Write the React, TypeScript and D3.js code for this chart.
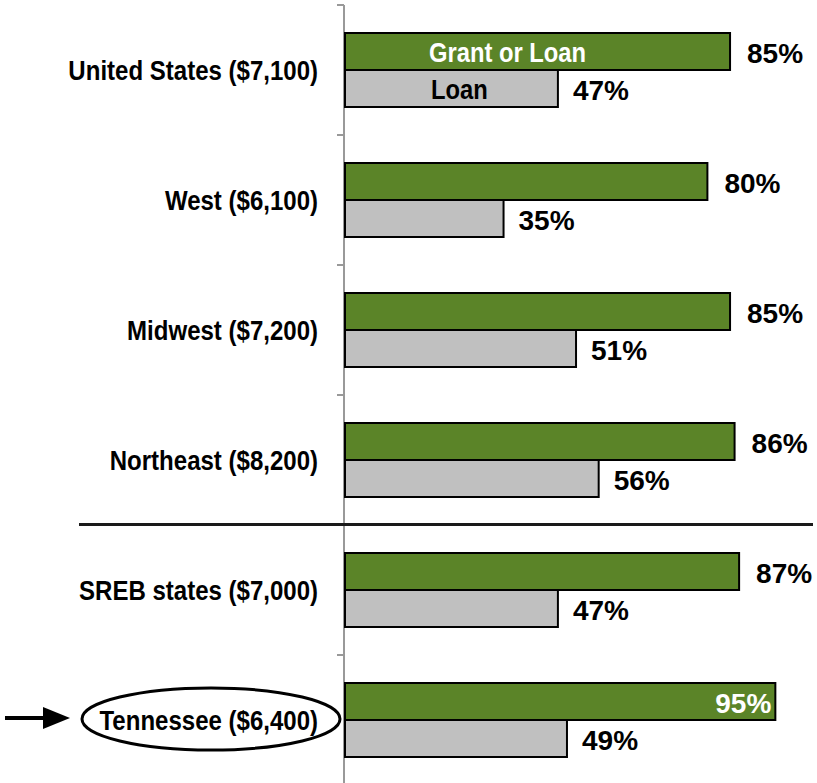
import React from "react";
import * as d3 from "d3";

const categories = [
  "United States ($7,100)",
  "West ($6,100)",
  "Midwest ($7,200)",
  "Northeast ($8,200)",
  "SREB states ($7,000)",
  "Tennessee ($6,400)",
];
const grantOrLoan = [85, 80, 85, 86, 87, 95];
const loanOnly = [47, 35, 51, 56, 47, 49];
const seriesNames = ["Grant or Loan", "Loan"];

const W = 817;
const H = 783;
const FONT = "'Liberation Sans', Arial, sans-serif";
const GREEN = "#5B8428";
const GRAY = "#C0C0C0";

function T(props: { x: number; y: number; anchor: string; fill: string; size: number; sx: number; children: any }) {
  return (
    <text
      transform={`translate(${props.x},${props.y}) scale(${props.sx},1)`}
      textAnchor={props.anchor as any}
      fill={props.fill}
      fontWeight="bold"
      fontSize={props.size}
    >
      {props.children}
    </text>
  );
}

export default function App() {
  const x = d3.scaleLinear().domain([0, 100]).range([345, 798]);
  const y = d3.scaleBand<string>().domain(categories).range([5, 785]).paddingInner(0).paddingOuter(0);
  const bw = y.bandwidth();
  const barH = 37;
  const ticks = [...categories.map((c) => y(c)!), 785];
  const sepY = (y(categories[3])! + bw + y(categories[4])!) / 2;

  return (
    <svg width={W} height={H} style={{ position: "absolute", left: 0, top: 0, background: "#fff" }} fontFamily={FONT}>
      {/* axis */}
      <line x1={344} x2={344} y1={5} y2={H} stroke="#999" strokeWidth={2} />
      {ticks.map((t, i) => (
        <line key={i} x1={337} x2={344} y1={t} y2={t} stroke="#999" strokeWidth={2} />
      ))}
      {/* separator */}
      <line x1={79} x2={813} y1={sepY - 0.5} y2={sepY - 0.5} stroke="#1a1a1a" strokeWidth={3} />
      {categories.map((c, i) => {
        const cy = y(c)! + bw / 2;
        const g = grantOrLoan[i];
        const l = loanOnly[i];
        const isTN = i === categories.length - 1;
        return (
          <g key={c}>
            <rect x={x(0)} y={cy - barH} width={x(g) - x(0)} height={barH} fill={GREEN} stroke="#000" strokeWidth={2} />
            <rect x={x(0)} y={cy} width={x(l) - x(0)} height={barH} fill={GRAY} stroke="#000" strokeWidth={2} />
            {isTN ? (
              <T x={x(g) - 4} y={cy - barH / 2 + 11} anchor="end" fill="#fff" size={28} sx={1}>
                {g}%
              </T>
            ) : (
              <T x={x(g) + 17} y={cy - barH / 2 + 11} anchor="start" fill="#000" size={28} sx={1}>
                {g}%
              </T>
            )}
            <T x={x(l) + 15} y={cy + barH / 2 + 11} anchor="start" fill="#000" size={28} sx={1}>
              {l}%
            </T>
            <T x={318} y={cy + 10} anchor="end" fill="#000" size={27} sx={0.89}>
              {c}
            </T>
            {i === 0 && (
              <>
                <T x={(x(0) + x(g)) / 2 - 30} y={cy - barH / 2 + 10} anchor="middle" fill="#fff" size={27} sx={0.88}>
                  {seriesNames[0]}
                </T>
                <T x={(x(0) + x(l)) / 2 + 8} y={cy + barH / 2 + 10} anchor="middle" fill="#000" size={27} sx={0.88}>
                  {seriesNames[1]}
                </T>
              </>
            )}
            {isTN && (
              <>
                <ellipse cx={211} cy={cy - 1} rx={129} ry={31} fill="none" stroke="#000" strokeWidth={3} />
                <line x1={5} x2={46} y1={cy - 2} y2={cy - 2} stroke="#000" strokeWidth={4} />
                <path d={`M43,${cy - 13} L70,${cy - 2} L43,${cy + 9} Z`} fill="#000" />
              </>
            )}
          </g>
        );
      })}
    </svg>
  );
}
